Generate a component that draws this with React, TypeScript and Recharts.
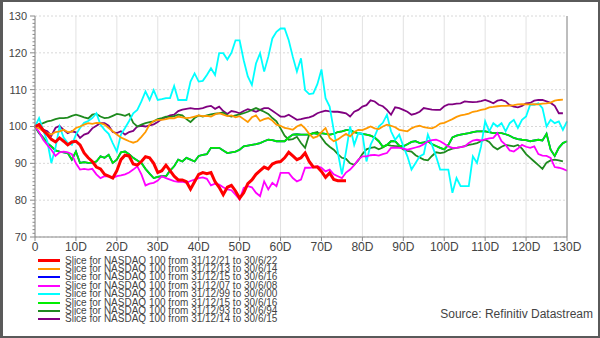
import React from 'react';
import { LineChart, Line, XAxis, YAxis, CartesianGrid, ReferenceLine } from 'recharts';

// day offsets 0..130 (trading-day index into each half-year slice)
const xTicks = [0, 10, 20, 30, 40, 50, 60, 70, 80, 90, 100, 110, 120, 130];
const yMajor = [70, 80, 90, 100, 110, 120, 130];
const yAll = Array.from({ length: 61 }, (_, i) => 70 + i);

const red2122 = [
  100, 100.5, 99, 97.8, 96.5, 95.8, 96.9, 96, 95, 95.8, 96, 95, 92.8, 91.5, 90.5, 89, 88.5, 87, 86.5, 86,
  88, 91, 92.2, 92, 89.8, 89.5, 90.5, 91.8, 91.5, 90, 87.5, 88, 89.5, 88, 86.5, 85.5, 85.5, 85, 83, 85,
  87, 87.5, 87.2, 87.5, 85, 83.5, 81.5, 83.5, 84, 82.5, 80.5, 82, 84.5, 85.5, 87, 88, 89, 88.5, 89.8, 90.3,
  90.5, 91.5, 93, 92, 91, 91.5, 92.8, 90.5, 89, 89, 87.8, 86.2, 87.4, 85.6, 85.3, 85.3, 85.3,
];

const orange1314 = [
  100, 99.5, 98.7, 98.2, 97.8, 98.5, 98.7, 99.1, 98.5, 98.6, 99.6, 100, 100.5, 100.9, 100.7, 101, 100.9, 100.5, 99.6, 98.7,
  97.8, 97, 96.5, 96, 95.6, 96, 97.2, 98.5, 100.5, 101.5, 101.8, 101.8, 102, 102.3, 102.2, 102.7, 102.5, 102.3, 102.4, 102.7,
  103, 102.8, 102.9, 102.7, 103.3, 103.6, 103.2, 102.8, 103, 102.5, 102.8, 102, 101.2, 102.5, 103, 101.5, 102, 102.3, 101.6, 100.5,
  100.2, 99.6, 99.4, 99.1, 100, 100.5, 99.5, 98, 96.9, 97.3, 98.5, 99.6, 96.9, 96, 96.5, 97.3, 98, 97.3, 98.5, 99.1,
  99, 99.5, 100, 99.5, 99.3, 100, 100.5, 100.2, 99.8, 99.1, 98.9, 98.7, 99.5, 100, 100.2, 99.8, 99.6, 99.5, 100, 100.8,
  101, 101.5, 102, 102.6, 103, 103.2, 103.5, 104, 104.2, 104.5, 104.7, 105.2, 105.3, 105.5, 105.6, 105.6, 105.7, 105.8, 106, 106.1,
  106, 106, 106.1, 106, 106.2, 106.3, 106.5, 107, 107.2, 107.3,
];

const green1516 = [
  100, 98.2, 97, 95.5, 94.6, 93.5, 93.2, 93, 92.8, 91, 93.2, 90.1, 90.3, 90.1, 90.2, 90.5, 91.9, 91.5, 92.3, 90.1,
  91, 93, 93.2, 92.5, 91.5, 90.8, 90.1, 88.5, 87.2, 86, 86.3, 86.5, 86.5, 88, 89.2, 91, 90.5, 91.5, 91, 90.5,
  92, 92.3, 92.5, 94.2, 94.2, 94.2, 93.5, 92.8, 93, 93.2, 93.7, 94.6, 94.8, 95, 95.2, 95.5, 96, 96.4, 96.3, 96,
  96, 96, 97, 97.8, 97.9, 97.8, 97.8, 97.8, 98.2, 98, 98.2, 98, 97.8, 98, 98.5, 98.7, 99, 99, 98.5, 98.2,
  98, 97.8, 97.5, 97, 96, 94.5, 95, 96, 96, 94.8, 94.6, 95.2, 95.8, 96, 95.5, 95.7, 96, 95.2, 94.7, 94.2,
  93.8, 95, 97, 97.5, 97.8, 98, 98.2, 98.5, 98.7, 98.7, 98.7, 98.5, 98.2, 98.2, 98.2, 97.9, 97.5, 96.9, 96.6, 96.4,
  96.3, 96, 96.2, 96.4, 96.2, 98, 93.7, 92, 94.2, 95.5, 96,
];

// same window as the green slice, drawn underneath it
const blue1516 = green1516;

const magenta0708 = [
  100, 98.5, 96.4, 95, 93.7, 92, 93, 93.2, 93, 92.5, 90, 88.3, 88.5, 88.3, 88.5, 87, 86, 86.5, 86.5, 86,
  86.5, 86.7, 87, 87.5, 88.3, 89.2, 87, 84, 84.5, 84.7, 85.3, 86.5, 86, 85.6, 85.2, 85, 85, 84.7, 85.2, 85.6,
  86, 86.2, 85.8, 84, 84.5, 84.2, 83.5, 82.9, 82.7, 81.5, 80.2, 83.3, 83.8, 83.5, 82, 81.1, 85.1, 82.9, 84.7, 83.8,
  87.4, 87.4, 87.4, 86, 85.1, 85.6, 88.8, 88.8, 88.9, 89.2, 88.8, 87.8, 88.3, 87, 86.5, 86, 87.5, 88.3, 89.5, 91,
  91.9, 91.9, 92.2, 92.3, 92.1, 92.5, 92.8, 94.2, 94.3, 94.2, 94, 93.7, 94, 94.3, 94.6, 95.2, 96, 96.3, 96.4, 96,
  95.3, 94.6, 94.2, 94.2, 94.4, 94.6, 95.5, 96.2, 96.4, 96.2, 96.5, 96.8, 96.9, 98.2, 96, 95, 93.5, 93.2, 94, 95,
  94.5, 94.2, 94.6, 92.5, 92.1, 92, 91.5, 89, 88.8, 88.5, 88,
];

const cyan9900 = [
  100, 102.3, 99, 96, 90.1, 94.2, 100, 97, 95.5, 95, 97.8, 99.6, 101, 101.5, 102.3, 103.6, 100.5, 99.1, 98, 95.5,
  93.2, 97.8, 99.6, 101.5, 103.6, 104.5, 106.8, 109.5, 107.2, 109.9, 107.2, 107.4, 107.7, 107.7, 111, 107.2, 107.2, 107.2, 112.2, 114.4,
  112.2, 112.4, 114, 115.8, 114, 119.9, 119.9, 118.2, 120, 123.4, 123.4, 118, 113.6, 111.3, 117.1, 119.9, 114.9, 118.9, 123.9, 125.7,
  126.6, 126.6, 123.4, 118.9, 114.9, 118.5, 109.9, 108.8, 109, 111.5, 115.5, 107.7, 105.4, 99, 93, 87, 93.2, 100, 95, 98.2,
  98, 90.5, 95, 97.3, 100, 101, 103.2, 98.7, 96.4, 97.8, 94.6, 91.9, 88.3, 90.1, 91.9, 92.5, 97.8, 95, 91.9, 88.3,
  88.3, 88.3, 82, 86, 83.8, 83.8, 83.8, 91.9, 90.1, 94.6, 101.4, 98.7, 100.9, 100, 100.9, 98.7, 100.9, 101.8, 99.6, 101.8,
  102.7, 105.9, 105.9, 106.3, 105, 100, 101.8, 100.9, 101.4, 99.1, 101.4,
];

const dkgreen9394 = [
  100, 100.6, 100.9, 101.4, 101.6, 102, 102.3, 102.3, 102.4, 102.9, 103.2, 102.9, 102.5, 102.2, 103.2, 103.4, 102.7, 102.3, 102.4, 102.9,
  103.4, 103.2, 102.9, 103.4, 101, 100, 100.5, 100.9, 101.2, 101.4, 102, 102.3, 102.7, 102.6, 102.8, 103.2, 103, 102, 101.2, 102.3,
  103, 102.7, 103, 103.3, 103.5, 103.6, 103.8, 103, 102.7, 103, 103.3, 103.6, 104, 104.5, 105, 104.5, 104, 103.4, 102.3, 101.4,
  99.5, 97.5, 96.4, 96.6, 97.2, 95.5, 94.2, 97.8, 98.2, 98.5, 97, 95.5, 94.5, 93.7, 92.5, 91.5, 91.2, 90, 89.6, 90.8,
  92.5, 93.8, 94.2, 94.4, 93.8, 94.3, 95, 94.8, 94.7, 94.6, 93.8, 93.4, 93.2, 92.2, 91.6, 91, 90.8, 92, 93, 92.8,
  93, 93.6, 94, 94.2, 94.4, 94.7, 95, 95.2, 95.5, 96, 96.4, 95.8, 94.5, 93.8, 94.5, 95, 94.8, 94.6, 95, 94,
  92.5, 91.5, 90.5, 89.5, 88.5, 90.2, 90.8, 91, 90.8, 90.5,
];

const purple1415 = [
  100, 99.8, 99.2, 98.7, 97.5, 99.6, 100.2, 99.1, 98.2, 98.7, 98.4, 96.9, 97.8, 98.2, 99.5, 100.2, 100.9, 100.9, 100.2, 98.5,
  98.2, 98.7, 97.8, 98.5, 98.8, 100, 100.2, 100, 100.3, 100.6, 101.2, 102, 102.5, 103, 103.2, 104.2, 104.6, 104.8, 105, 104.8,
  104.8, 105, 105.4, 105.6, 104.8, 105.4, 104.2, 103.4, 104.2, 104, 103.6, 104.2, 104.7, 104.4, 104, 104.5, 105, 105, 104.3, 103.5,
  102.7, 102.7, 103.2, 102.5, 101.8, 102, 102.3, 102.5, 102.9, 103.6, 104, 104.3, 104.1, 104, 104, 103.8, 103.6, 102.7, 104, 104.5,
  105.4, 105.8, 107.1, 106.8, 105.9, 105.5, 104.5, 103.2, 105.2, 105, 104.5, 104, 103.2, 103.5, 104, 105, 104.8, 104.6, 104.5, 104.5,
  105.5, 106, 106, 106.2, 106.3, 106.8, 106.7, 106.6, 106.7, 106.9, 107.2, 106.8, 106.3, 107, 107.2, 106.8, 105.8, 105.4, 105.2, 105.6,
  106.3, 106.4, 107, 107.2, 107.2, 106.8, 106.4, 105.6, 103.6, 103.6,
];

const series = [
  { key: 'red', name: 'Slice for NASDAQ 100 from 31/12/21 to 30/6/22', values: red2122, color: '#ff0000', width: 3 },
  { key: 'orange', name: 'Slice for NASDAQ 100 from 31/12/13 to 30/6/14', values: orange1314, color: '#ff9900', width: 1.8 },
  { key: 'blue', name: 'Slice for NASDAQ 100 from 31/12/15 to 30/6/16', values: blue1516, color: '#0000ff', width: 1.8 },
  { key: 'magenta', name: 'Slice for NASDAQ 100 from 31/12/07 to 30/6/08', values: magenta0708, color: '#ff00ff', width: 1.8 },
  { key: 'cyan', name: 'Slice for NASDAQ 100 from 31/12/99 to 30/6/00', values: cyan9900, color: '#00ffff', width: 1.8 },
  { key: 'green', name: 'Slice for NASDAQ 100 from 31/12/15 to 30/6/16', values: green1516, color: '#00ee00', width: 1.8 },
  { key: 'dkgreen', name: 'Slice for NASDAQ 100 from 31/12/93 to 30/6/94', values: dkgreen9394, color: '#1e8a1e', width: 1.8 },
  { key: 'purple', name: 'Slice for NASDAQ 100 from 31/12/14 to 30/6/15', values: purple1415, color: '#800080', width: 1.8 },
];

// blue hidden under green, red on top
const drawOrder = ['blue', 'purple', 'dkgreen', 'green', 'cyan', 'magenta', 'orange', 'red'];

const data = Array.from({ length: 131 }, (_, d) => {
  const row: Record<string, number | undefined> = { day: d };
  series.forEach((s) => { row[s.key] = s.values[d]; });
  return row;
});

const FONT = '"Liberation Sans", Arial, sans-serif';
const AXIS = '#8a8a8a';
const TEXT = '#444';
const ROW = 8.4;

const LeftTick = ({ x, y, payload }: any) => {
  const major = payload.value % 10 === 0;
  return (
    <g>
      <line x1={x - (major ? 5 : 2.5)} x2={x} y1={y} y2={y} stroke={AXIS} strokeWidth={1} />
      {major && (
        <text x={x - 8} y={y} dy="0.36em" textAnchor="end" fontSize={11} fill={TEXT} fontFamily={FONT}>
          {payload.value}
        </text>
      )}
    </g>
  );
};

const RightTick = ({ x, y, payload }: any) => {
  const major = payload.value % 10 === 0;
  return (
    <g>
      <line x1={x} x2={x + (major ? 5 : 2.5)} y1={y} y2={y} stroke={AXIS} strokeWidth={1} />
      {major && (
        <text x={x + 8} y={y} dy="0.36em" textAnchor="start" fontSize={11} fill={TEXT} fontFamily={FONT}>
          {payload.value}
        </text>
      )}
    </g>
  );
};

export default function App() {
  return (
    <div style={{ position: 'absolute', left: 0, top: 0, width: 600, height: 338, background: '#fff', fontFamily: FONT }}>
      <LineChart width={600} height={338} data={data} margin={{ top: 16, right: 0, bottom: 81, left: 0 }}>
        <CartesianGrid vertical horizontal={false} stroke="#e2e2e2" />
        <XAxis
          dataKey="day"
          type="number"
          domain={[0, 130]}
          ticks={xTicks}
          interval={0}
          height={20}
          stroke={AXIS}
          tickSize={4}
          tickMargin={1}
          tick={{ fill: TEXT, fontSize: 12, fontFamily: FONT }}
          tickFormatter={(v: number) => (v === 0 ? '0' : `${v}D`)}
        />
        <YAxis
          yAxisId="left"
          orientation="left"
          domain={[70, 130]}
          ticks={yAll}
          interval={0}
          width={35}
          stroke={AXIS}
          tickLine={false}
          tickSize={0}
          tickMargin={0}
          tick={<LeftTick />}
        />
        <YAxis
          yAxisId="right"
          orientation="right"
          domain={[70, 130]}
          ticks={yAll}
          interval={0}
          width={33}
          stroke={AXIS}
          tickLine={false}
          tickSize={0}
          tickMargin={0}
          tick={<RightTick />}
        />
        {yMajor.map((v) => (
          <ReferenceLine key={v} yAxisId="left" y={v} stroke="#d8d8d8" strokeDasharray="2 2" />
        ))}
        {drawOrder.map((k) => {
          const s = series.find((q) => q.key === k)!;
          return (
            <Line
              key={s.key}
              yAxisId="left"
              type="linear"
              dataKey={s.key}
              name={s.name}
              stroke={s.color}
              strokeWidth={s.width}
              dot={false}
              activeDot={false}
              connectNulls={false}
              isAnimationActive={false}
            />
          );
        })}
      </LineChart>
      <div style={{ position: 'absolute', left: 38, top: 256.5 }}>
        {series.map((s, i) => (
          <div key={s.key} style={{ position: 'absolute', top: i * ROW, left: 0, height: ROW, width: 260 }}>
            <div
              style={{
                position: 'absolute', left: 0, top: ROW / 2 - (s.width === 3 ? 1.25 : 1),
                width: 22, height: s.width === 3 ? 2.5 : 2, background: s.color,
              }}
            />
            <div
              style={{
                position: 'absolute', left: 27, top: 0, height: ROW, fontSize: 10, lineHeight: `${ROW}px`,
                color: TEXT, whiteSpace: 'nowrap', overflow: 'visible',
              }}
            >
              {s.name}
            </div>
          </div>
        ))}
      </div>
      <div style={{ position: 'absolute', right: 7, top: 307, fontSize: 12, color: TEXT, whiteSpace: 'nowrap' }}>
        Source: Refinitiv Datastream
      </div>
      <div
        style={{
          position: 'absolute', left: 0, top: 0, width: 600, height: 338, boxSizing: 'border-box',
          borderTop: '2px solid #5a5a5a', borderRight: '2px solid #5a5a5a', borderBottom: '2px solid #5a5a5a',
          borderLeft: '3px solid #5a5a5a', pointerEvents: 'none',
        }}
      />
    </div>
  );
}
